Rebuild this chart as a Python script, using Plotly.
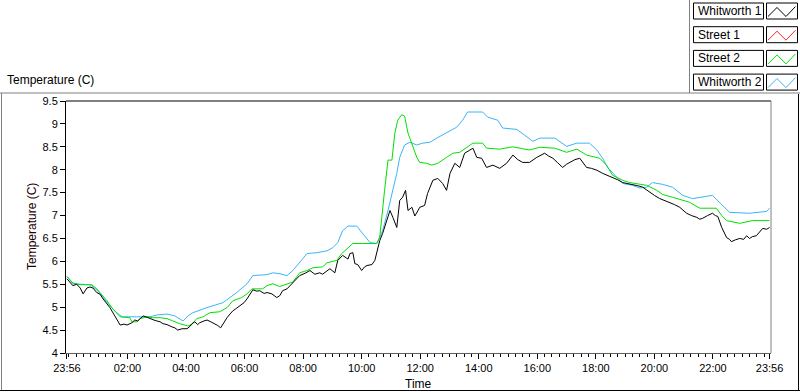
import plotly.graph_objects as go
from datetime import datetime, timedelta

# ---------------- data (minutes elapsed since 23:56, temperature in C) ----------------
start_clock = datetime(2000, 1, 1, 23, 56)

whitworth1_min = [0, 6, 12, 20, 27, 33, 41, 47, 53, 61, 68, 74, 82, 88, 98, 104, 109, 117, 123, 133,
                  139, 145, 152, 156, 164, 170, 178, 184, 191, 197, 205, 215, 221, 227, 236, 246, 252,
                  256, 262, 268, 272, 281, 287, 295, 303, 309, 315, 322, 328, 334, 340, 348, 354, 363,
                  369, 375, 381, 389, 395, 404, 410, 420, 430, 436, 442, 451, 457, 467, 477, 488, 498,
                  508, 518, 524, 533, 539, 549, 555, 565, 576, 580, 586, 590, 596, 604, 610, 615, 625,
                  631, 635, 641, 647, 655, 662, 668, 676, 682, 688, 694, 699, 707, 713, 719, 723, 733,
                  739, 750, 760, 770, 778, 785, 795, 805, 815, 826, 832, 840, 850, 860, 873, 887, 901,
                  914, 924, 934, 948, 963, 979, 987, 996, 1006, 1016, 1024, 1030, 1041, 1051, 1059,
                  1065, 1075, 1086, 1098, 1108, 1118, 1129, 1139, 1149, 1159, 1170, 1180, 1188, 1194,
                  1204, 1215, 1225, 1235, 1245, 1256, 1264, 1270, 1280, 1291, 1297, 1303, 1313, 1323,
                  1329, 1334, 1342, 1348, 1352, 1358, 1362, 1370, 1379, 1387, 1393, 1399, 1405, 1413,
                  1420, 1426, 1434, 1440]
whitworth1_val = [5.62, 5.55, 5.47, 5.50, 5.42, 5.29, 5.42, 5.44, 5.42, 5.32, 5.28, 5.18, 5.08, 4.99,
                  4.81, 4.70, 4.61, 4.63, 4.61, 4.66, 4.72, 4.70, 4.76, 4.81, 4.78, 4.75, 4.72, 4.70,
                  4.68, 4.64, 4.62, 4.57, 4.55, 4.50, 4.53, 4.53, 4.58, 4.64, 4.68, 4.62, 4.66, 4.70,
                  4.72, 4.68, 4.64, 4.60, 4.55, 4.68, 4.77, 4.85, 4.92, 4.98, 5.03, 5.10, 5.18, 5.28,
                  5.38, 5.35, 5.36, 5.30, 5.32, 5.29, 5.21, 5.25, 5.36, 5.40, 5.47, 5.58, 5.69, 5.74,
                  5.80, 5.72, 5.75, 5.72, 5.80, 5.84, 5.75, 6.02, 6.13, 6.05, 6.17, 6.19, 5.95, 5.93,
                  5.80, 5.88, 5.91, 5.93, 6.02, 6.17, 6.45, 6.61, 6.89, 7.11, 6.96, 6.74, 7.33, 7.40,
                  7.55, 7.11, 7.18, 6.99, 7.10, 7.18, 7.22, 7.48, 7.77, 7.81, 7.70, 7.55, 7.92, 8.14,
                  8.05, 8.36, 8.43, 8.47, 8.27, 8.25, 8.05, 8.10, 8.03, 8.14, 8.32, 8.22, 8.16, 8.16,
                  8.27, 8.36, 8.30, 8.25, 8.15, 8.05, 8.12, 8.16, 8.22, 8.25, 8.15, 8.05, 8.03, 7.99,
                  7.92, 7.88, 7.83, 7.78, 7.72, 7.70, 7.68, 7.65, 7.62, 7.56, 7.50, 7.44, 7.37, 7.33,
                  7.29, 7.24, 7.18, 7.10, 7.05, 7.00, 6.96, 6.92, 6.94, 7.00, 7.05, 7.00, 6.98, 6.74,
                  6.60, 6.52, 6.48, 6.43, 6.47, 6.50, 6.48, 6.56, 6.50, 6.54, 6.56, 6.65, 6.72, 6.70,
                  6.74]

street1_min = []
street1_val = []

street2_min = [0, 12, 27, 51, 61, 68, 82, 94, 109, 129, 133, 143, 150, 164, 176, 191, 205, 217, 231,
               248, 256, 266, 279, 293, 313, 328, 340, 358, 369, 379, 401, 410, 422, 436, 451, 463,
               477, 492, 504, 524, 533, 553, 563, 574, 586, 606, 635, 641, 647, 651, 658, 666, 672,
               678, 686, 692, 699, 707, 717, 723, 737, 748, 760, 778, 791, 805, 819, 832, 852, 860,
               887, 914, 948, 969, 1000, 1024, 1045, 1065, 1092, 1106, 1118, 1139, 1153, 1174, 1188,
               1209, 1221, 1241, 1276, 1297, 1331, 1342, 1352, 1379, 1405, 1440]
street2_val = [5.67, 5.53, 5.49, 5.49, 5.40, 5.32, 5.14, 4.96, 4.79, 4.77, 4.68, 4.68, 4.75, 4.79,
               4.77, 4.77, 4.75, 4.70, 4.64, 4.59, 4.62, 4.75, 4.79, 4.88, 4.90, 4.99, 5.14, 5.21,
               5.29, 5.40, 5.40, 5.47, 5.51, 5.45, 5.50, 5.55, 5.75, 5.80, 5.86, 5.88, 5.97, 6.02,
               6.17, 6.28, 6.39, 6.39, 6.39, 6.52, 7.18, 7.55, 8.21, 8.21, 8.80, 9.08, 9.20, 9.17,
               8.80, 8.58, 8.27, 8.16, 8.14, 8.10, 8.14, 8.27, 8.36, 8.38, 8.49, 8.58, 8.58, 8.47,
               8.45, 8.50, 8.43, 8.49, 8.47, 8.38, 8.45, 8.32, 8.25, 8.10, 7.88, 7.77, 7.72, 7.68,
               7.66, 7.55, 7.46, 7.40, 7.29, 7.16, 7.16, 7.00, 6.89, 6.83, 6.89, 6.89]

whitworth2_min = [0, 12, 47, 61, 74, 88, 102, 113, 143, 170, 184, 205, 221, 231, 238, 248, 258, 287,
                  299, 320, 334, 348, 369, 381, 410, 422, 436, 451, 463, 477, 492, 512, 533, 545, 555,
                  565, 576, 594, 606, 621, 635, 647, 658, 668, 676, 682, 692, 703, 717, 729, 744, 758,
                  778, 799, 811, 821, 852, 862, 883, 893, 922, 942, 955, 969, 1000, 1024, 1045, 1071,
                  1086, 1098, 1108, 1123, 1139, 1159, 1174, 1188, 1200, 1221, 1241, 1262, 1282, 1323,
                  1338, 1358, 1399, 1434, 1440]
whitworth2_val = [5.67, 5.51, 5.49, 5.38, 5.21, 5.03, 4.88, 4.79, 4.79, 4.79, 4.83, 4.85, 4.81, 4.75,
                  4.70, 4.81, 4.88, 4.99, 5.03, 5.10, 5.21, 5.32, 5.51, 5.69, 5.71, 5.75, 5.73, 5.69,
                  5.80, 5.97, 6.17, 6.19, 6.23, 6.30, 6.41, 6.67, 6.77, 6.77, 6.61, 6.41, 6.39, 6.67,
                  7.11, 7.55, 7.92, 8.27, 8.54, 8.60, 8.54, 8.58, 8.60, 8.69, 8.80, 8.93, 9.08, 9.26,
                  9.26, 9.15, 9.08, 8.91, 8.88, 8.71, 8.62, 8.69, 8.69, 8.51, 8.58, 8.58, 8.43, 8.25,
                  8.05, 7.88, 7.70, 7.66, 7.60, 7.62, 7.72, 7.68, 7.62, 7.44, 7.37, 7.44, 7.29, 7.07,
                  7.05, 7.09, 7.16]

series_names = ["Whitworth 1", "Street 1", "Street 2", "Whitworth 2"]
series_colors = ["#000000", "#ff2020", "#00e000", "#3cb4f8"]

x_tick_clock = ["2000-01-01 23:56", "2000-01-02 02:00", "2000-01-02 04:00", "2000-01-02 06:00",
                "2000-01-02 08:00", "2000-01-02 10:00", "2000-01-02 12:00", "2000-01-02 14:00",
                "2000-01-02 16:00", "2000-01-02 18:00", "2000-01-02 20:00", "2000-01-02 22:00",
                "2000-01-02 23:56"]
x_tick_labels = ["23:56", "02:00", "04:00", "06:00", "08:00", "10:00", "12:00", "14:00", "16:00",
                 "18:00", "20:00", "22:00", "23:56"]
y_tick_vals = [4, 4.5, 5, 5.5, 6, 6.5, 7, 7.5, 8, 8.5, 9, 9.5]
y_tick_labels = ["4", "4.5", "5", "5.5", "6", "6.5", "7", "7.5", "8", "8.5", "9", "9.5"]

# ---------------- layout geometry ----------------
W, H = 800, 392
ML, MR, MT, MB = 66, 29, 101, 39
PW, PH = W - ML - MR, H - MT - MB
FONT = "Liberation Sans"


def PX(x):
    return (x - ML) / PW


def PY(y):
    return (H - MB - y) / PH


def to_time(mins):
    return [start_clock + timedelta(minutes=m) for m in mins]


fig = go.Figure()
series = [
    (whitworth2_min, whitworth2_val, 3),
    (street1_min, street1_val, 1),
    (street2_min, street2_val, 2),
    (whitworth1_min, whitworth1_val, 0),
]
for mins, vals, idx in series:
    fig.add_trace(go.Scatter(x=to_time(mins), y=vals, mode="lines", name=series_names[idx],
                             line=dict(color=series_colors[idx], width=1), showlegend=False,
                             hoverinfo="skip"))

fig.update_xaxes(
    type="date",
    range=[start_clock - timedelta(minutes=2), start_clock + timedelta(minutes=1443)],
    tickmode="array", tickvals=x_tick_clock, ticktext=x_tick_labels,
    ticks="outside", ticklen=5, tickcolor="#000000", tickwidth=1,
    showgrid=False, zeroline=False, showline=True, linecolor="#606060", linewidth=1,
    tickfont=dict(family=FONT, size=11, color="#000000"),
    minor=dict(dtick=15 * 60 * 1000, tick0="2000-01-02 00:00", ticks="outside", ticklen=3,
               tickcolor="#000000", showgrid=False),
    fixedrange=True,
)
fig.update_yaxes(
    range=[4, 9.5], tickmode="array", tickvals=y_tick_vals, ticktext=y_tick_labels,
    ticks="outside", ticklen=5, tickcolor="#000000", tickwidth=1,
    showgrid=False, zeroline=False, showline=True, linecolor="#000000", linewidth=1,
    tickfont=dict(family=FONT, size=11, color="#000000"), fixedrange=True,
)

shapes = []
# plot frame: top black, right gray
shapes.append(dict(type="line", xref="paper", yref="paper", x0=0, x1=1, y0=1, y1=1,
                   line=dict(color="#000000", width=1)))
shapes.append(dict(type="line", xref="paper", yref="paper", x0=1, x1=1, y0=0, y1=1,
                   line=dict(color="#808080", width=1)))
# outer graph frame
shapes.append(dict(type="line", xref="paper", yref="paper", x0=PX(0), x1=PX(800), y0=PY(93), y1=PY(93),
                   line=dict(color="#808080", width=1)))
shapes.append(dict(type="line", xref="paper", yref="paper", x0=PX(689.5), x1=PX(689.5), y0=PY(0), y1=PY(93),
                   line=dict(color="#808080", width=1)))
shapes.append(dict(type="line", xref="paper", yref="paper", x0=PX(1.5), x1=PX(1.5), y0=PY(93), y1=PY(390),
                   line=dict(color="#808080", width=1)))
shapes.append(dict(type="line", xref="paper", yref="paper", x0=PX(0), x1=PX(800), y0=PY(390.5), y1=PY(390.5),
                   line=dict(color="#000000", width=1)))
shapes.append(dict(type="line", xref="paper", yref="paper", x0=PX(798.5), x1=PX(798.5), y0=PY(94), y1=PY(391),
                   line=dict(color="#000000", width=1)))

annotations = []
# legend (drawn by hand to match the boxed look)
for i, name in enumerate(series_names):
    top = 3 + 23.7 * i
    shapes.append(dict(type="rect", xref="paper", yref="paper", x0=PX(693.5), x1=PX(763.5),
                       y0=PY(top), y1=PY(top + 16), line=dict(color="#000000", width=1),
                       fillcolor="#ffffff"))
    shapes.append(dict(type="rect", xref="paper", yref="paper", x0=PX(766.5), x1=PX(797.5),
                       y0=PY(top), y1=PY(top + 16), line=dict(color="#000000", width=1),
                       fillcolor="#ffffff"))
    pts = [(768, top + 13.5), (777, top + 4.5), (786, top + 13.5), (795.5, top + 3.5)]
    path = "M " + " L ".join(f"{PX(a):.5f},{PY(b):.5f}" for a, b in pts)
    shapes.append(dict(type="path", xref="paper", yref="paper", path=path,
                       line=dict(color=series_colors[i], width=1)))
    annotations.append(dict(text=name, xref="paper", yref="paper", x=PX(696), y=PY(top + 8),
                            xanchor="left", yanchor="middle", showarrow=False,
                            font=dict(family=FONT, size=12, color="#000000")))

annotations.append(dict(text="Temperature (C)", xref="paper", yref="paper", x=PX(5), y=PY(80),
                        xanchor="left", yanchor="middle", showarrow=False,
                        font=dict(family=FONT, size=12, color="#000000")))
annotations.append(dict(text="Temperature (C)", xref="paper", yref="paper", x=PX(32), y=PY(227),
                        xanchor="center", yanchor="middle", showarrow=False, textangle=-90,
                        font=dict(family=FONT, size=12, color="#200000")))
annotations.append(dict(text="Time", xref="paper", yref="paper", x=PX(419), y=PY(384),
                        xanchor="center", yanchor="middle", showarrow=False,
                        font=dict(family=FONT, size=12, color="#000000")))

fig.update_layout(
    width=W, height=H, autosize=False,
    margin=dict(l=ML, r=MR, t=MT, b=MB, pad=0),
    paper_bgcolor="#ffffff", plot_bgcolor="#ffffff",
    shapes=shapes, annotations=annotations, showlegend=False,
)

fig.write_html("out.html", config={"displayModeBar": False},
               post_script="document.body.style.margin='0';document.body.style.padding='0';"
                           "document.body.style.overflow='hidden';")
